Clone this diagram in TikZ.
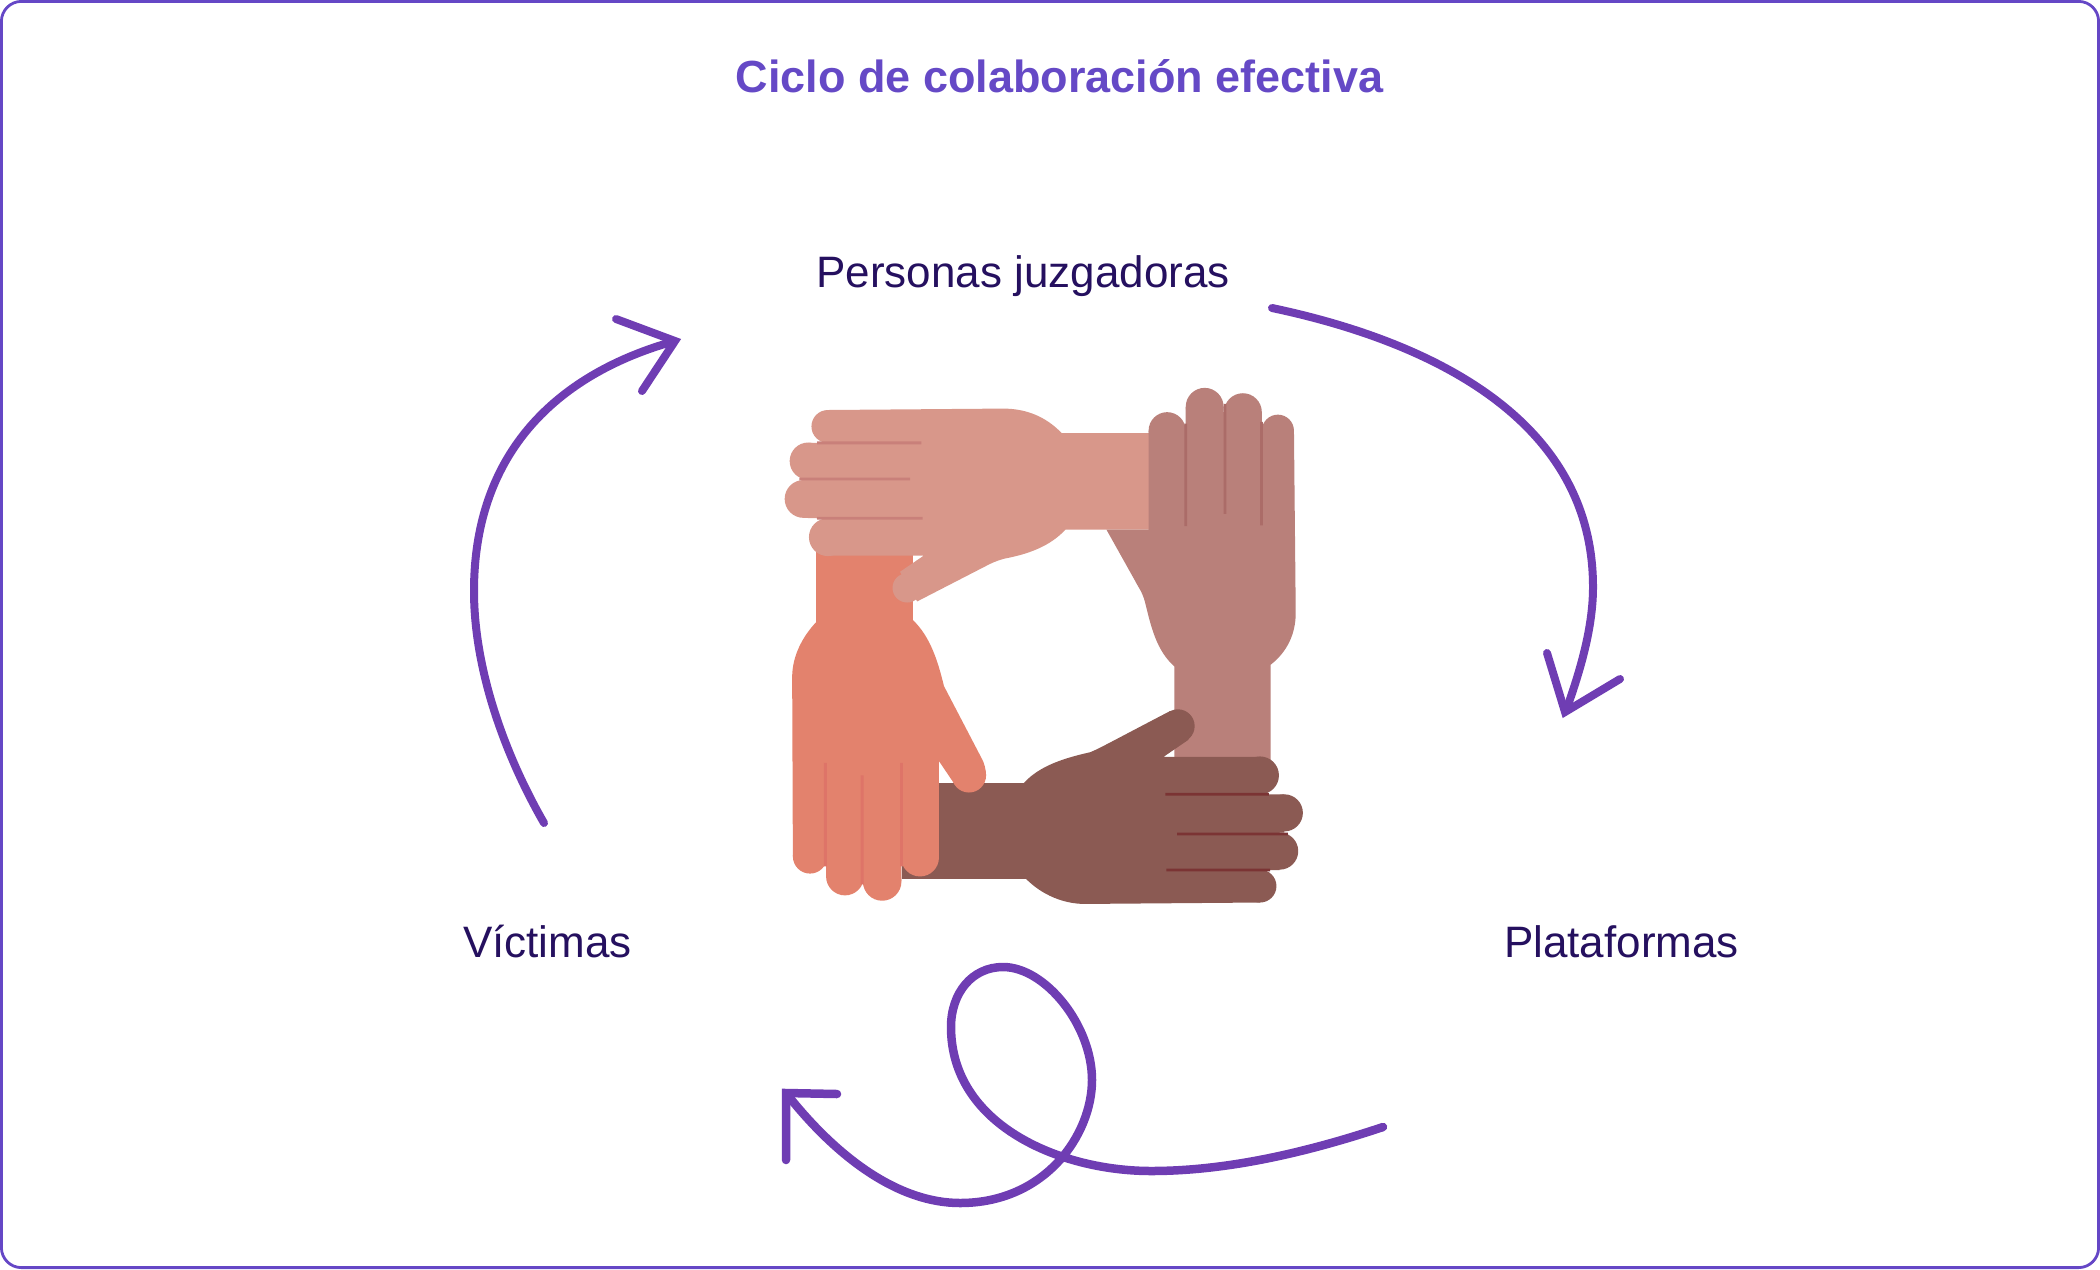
\documentclass[tikz,border=0pt]{standalone}
\usepackage{fontspec}
\setmainfont{Liberation Sans}
\definecolor{frameC}{HTML}{6547C6}
\definecolor{titleC}{HTML}{6549C6}
\definecolor{labelC}{HTML}{25105F}
\definecolor{arrowC}{HTML}{6F3DB3}
\definecolor{pinkC}{HTML}{D8978A}
\definecolor{pinkL}{HTML}{C9807A}
\definecolor{orangeC}{HTML}{E3826D}
\definecolor{orangeL}{HTML}{DE7468}
\definecolor{roseC}{HTML}{B9807A}
\definecolor{roseL}{HTML}{AB6C68}
\definecolor{brownC}{HTML}{8B5A53}
\definecolor{brownL}{HTML}{7B3434}
\tikzset{
  curvearrow/.style={draw=arrowC,line width=8pt,line cap=round,line join=round},
  arrowhead/.style={draw=arrowC,line width=8pt,line cap=round,line join=miter,miter limit=10},
  labeltext/.style={text=labelC,font=\fontsize{44}{50}\selectfont,anchor=base,inner sep=0pt},
  titletext/.style={text=titleC,font=\fontsize{45}{50}\selectfont\bfseries,anchor=base,inner sep=0pt}
}
\begin{document}
\begin{tikzpicture}[x=1pt,y=-1pt]
\useasboundingbox (0,0) rectangle (2100,1269);
\draw[frameC,line width=2.8pt,rounded corners=20pt] (1.4,1.4) rectangle (2098.6,1267.6);
\node[titletext] (title) at (1059.5,92) {Ciclo de colaboración efectiva};
\node[labeltext] (jueces) at (1023,287) {Personas juzgadoras};
\node[labeltext] (victimas) at (547.5,957) {Víctimas};
\node[labeltext] (plataformas) at (1621.5,957) {Plataformas};

% hands, in a 2.8x local frame
\begin{scope}[x=0.35714pt,y=-0.35714pt,shift={(2128,1036)}]
% orange arm (under the pink hand)
\fill[orangeC] (158,500) rectangle (428,720);
% pink hand
\fill[pinkC] (1090,177) -- (845,177) .. controls (800,130) and (745,108) .. (680,108) -- (190,112)
  -- (190,204) -- (135,204) -- (135,307) -- (122,308) -- (122,414) -- (190,416) -- (190,520) -- (458,520)
  -- (392,565) -- (440,648) -- (640,545) .. controls (660,535) and (680,528) .. (700,525)
  .. controls (770,510) and (820,485) .. (855,447) -- (1090,447) -- cycle;
\fill[pinkC] (190,158) circle[radius=46] (135,255) circle[radius=52] (122,361) circle[radius=53] (190,468) circle[radius=53] (412,610) circle[radius=41];
\fill[pinkL] (160,200) rectangle (452,208) (110,301) rectangle (420,309) (160,411) rectangle (455,419);
% rose hand
\fill[roseC] (1160,1100) -- (1160,830) .. controls (1110,785) and (1095,720) .. (1078,650)
  .. controls (1070,620) and (1060,610) .. (1050,590) -- (970,447) -- (1088,447) -- (1088,170) -- (1192,170) -- (1192,103)
  -- (1298,103) -- (1298,118) -- (1405,118) -- (1405,170) -- (1495,170) -- (1500,680)
  .. controls (1500,740) and (1475,790) .. (1430,825) -- (1430,1100) -- cycle;
\fill[roseC] (1140,170) circle[radius=52] (1245,103) circle[radius=53] (1352,118) circle[radius=53] (1450,170) circle[radius=45];
\fill[roseL] (1188,150) rectangle (1196,437) (1298,95) rectangle (1306,403) (1400,145) rectangle (1408,435);
% brown hand
\fill[brownC] (397,1157) -- (738,1157) .. controls (785,1105) and (860,1085) .. (925,1070)
  .. controls (950,1060) and (1000,1032) .. (1148,955) -- (1200,1035) -- (1130,1083) -- (1400,1083) -- (1400,1188) -- (1468,1188)
  -- (1468,1295) -- (1455,1295) -- (1455,1400) -- (1400,1400) -- (1400,1491) -- (910,1495)
  .. controls (850,1495) and (790,1470) .. (745,1425) -- (397,1425) -- cycle;
\fill[brownC] (1400,1135) circle[radius=53] (1468,1240) circle[radius=52] (1455,1347) circle[radius=52] (1400,1445) circle[radius=46] (1170,997) circle[radius=47];
\fill[brownL] (1135,1184) rectangle (1425,1192) (1168,1295) rectangle (1478,1303) (1138,1396) rectangle (1428,1404);
% orange hand (over the brown arm)
\fill[orangeC] (158,705) -- (428,700) .. controls (475,745) and (497,810) .. (515,885) -- (622,1090)
  .. controls (628,1102) and (632,1115) .. (633,1135) -- (545,1160) -- (501,1095) -- (501,1365) -- (396,1365) -- (396,1432) -- (290,1432)
  -- (290,1418) -- (185,1418) -- (185,1362) -- (92,1362) -- (90,860)
  .. controls (90,800) and (120,745) .. (158,705) -- cycle;
\fill[orangeC] (140,1362) circle[radius=48] (238,1418) circle[radius=53] (342,1432) circle[radius=54] (448,1365) circle[radius=53] (585,1135) circle[radius=48];
\fill[orangeL] (179,1100) rectangle (187,1390) (282,1135) rectangle (290,1440) (392,1100) rectangle (400,1390);
\end{scope}

% arrows
\coordinate (rs) at (1272,308);
\coordinate (re) at (1568,705);
\coordinate (rt) at (1565,712);
\draw[curvearrow] (rs) .. controls (1400,335) and (1593,404) .. (1593,587) .. controls (1593,625) and (1582,665) .. (re);
\draw[arrowhead] (1547,653) -- (rt) -- (1620,679);

\coordinate (bs) at (1383,1127);
\coordinate (be) at (790,1098);
\coordinate (bt) at (786,1093);
\draw[curvearrow,line width=8.5pt] (bs) .. controls (1290,1158) and (1215,1171) .. (1151,1171)
  .. controls (1060,1171) and (951,1125) .. (951,1027)
  .. controls (951,993) and (972,967) .. (1003,967)
  .. controls (1045,967) and (1092,1025) .. (1092,1080)
  .. controls (1092,1135) and (1045,1203) .. (960,1203)
  .. controls (900,1203) and (840,1160) .. (be);
\draw[arrowhead,line width=8.5pt] (837,1094) -- (bt) -- (786,1160);

\coordinate (ls) at (544,823);
\coordinate (le) at (668,343);
\coordinate (lt) at (675,341);
\draw[curvearrow] (ls) .. controls (505,755) and (474,670) .. (474,591)
  .. controls (474,450) and (560,375) .. (le);
\draw[arrowhead] (616,319) -- (lt) -- (642,391);
\end{tikzpicture}
\end{document}
